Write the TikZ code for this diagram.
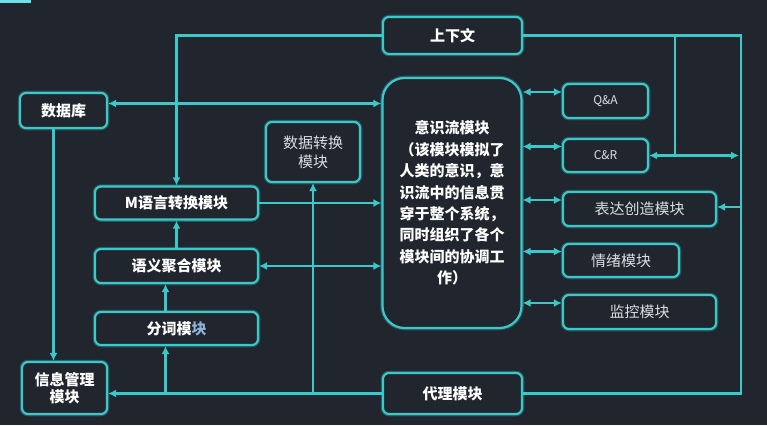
\documentclass[tikz,border=0pt]{standalone}
\usepackage{fontspec}
\newfontfamily\cjk{Noto Sans CJK SC}
\usetikzlibrary{arrows.meta,calc}

\definecolor{bgdark}{RGB}{33,37,46}
\definecolor{glow}{RGB}{58,200,200}
\definecolor{barcyan}{RGB}{110,225,235}
\definecolor{softtext}{RGB}{218,222,226}
\definecolor{bluetext}{RGB}{140,180,215}

\begin{document}
\begin{tikzpicture}[x=1pt, y=-1pt,
  >={Latex[length=8pt,width=8pt]},
  box/.style={draw=glow, line width=2.2pt, rounded corners=6pt, fill=bgdark,
    preaction={draw=glow, line width=4.5pt, opacity=0.3},
    align=center, inner sep=0pt, text=white,
    font=\cjk\bfseries\fontsize{15}{18}\selectfont},
  plainbox/.style={box, text=softtext, font=\cjk\fontsize{15}{19}\selectfont},
  link/.style={draw=glow, line width=2.2pt}]
% Canvas
\fill[bgdark] (0,0) rectangle (767,425);
\useasboundingbox (0,0) rectangle (767,425);
\fill[barcyan] (0,0) rectangle (31,3);
% Central column
\node[box, minimum width=139, minimum height=37] (ctx) at (452.5,35.5) {上下文};
\node[box, rounded corners=22pt, minimum width=139, minimum height=250,
  font=\cjk\bfseries\fontsize{15}{21.4}\selectfont] (stream) at (452,203)
  {意识流模块\\（该模块模拟了\\人类的意识，意\\识流中的信息贯\\穿于整个系统，\\同时组织了各个\\模块间的协调工\\作）};
\node[box, minimum width=139, minimum height=41] (agent) at (452.5,393.5) {代理模块};
% Right column
\node[plainbox, minimum width=85, minimum height=34,
  font=\cjk\fontsize{12}{14}\selectfont] (qa) at (605.5,101) {Q\&A};
\node[plainbox, minimum width=85, minimum height=33,
  font=\cjk\fontsize{12}{14}\selectfont] (cr) at (605.5,155.5) {C\&R};
\node[plainbox, minimum width=153, minimum height=34] (expr) at (639.5,209) {表达创造模块};
\node[plainbox, minimum width=116, minimum height=33] (emo) at (621,260.5) {情绪模块};
\node[plainbox, minimum width=153, minimum height=34] (mon) at (639.5,312) {监控模块};
% Left column
\node[box, minimum width=87, minimum height=35] (db) at (63.5,110.5) {数据库};
\node[plainbox, minimum width=94, minimum height=60] (conv) at (313,152) {数据转换\\模块};
\node[box, minimum width=163, minimum height=33] (mlang) at (176.5,203) {M语言转换模块};
\node[box, minimum width=163, minimum height=34] (sem) at (176.5,266) {语义聚合模块};
\node[box, minimum width=163, minimum height=33] (seg) at (176.5,328.5) {分词模{\color{bluetext}块}};
\node[box, minimum width=85, minimum height=52,
  font=\cjk\bfseries\fontsize{15}{17}\selectfont] (info) at (64.5,388) {信息管理\\模块};
% Bus lines
\coordinate (bus) at (741,0);
\coordinate (cut) at (675,0);
\draw[link] (ctx.east) -- (ctx.east -| bus) -- (agent.east -| bus) -- (agent.east);
\draw[link] (ctx.east -| cut) -- (cr.east -| cut);
\draw[link,<->] (cr.east) -- ([xshift=-2pt]cr.east -| bus);
\draw[link,->] ([yshift=2pt]expr.east -| bus) -- ([yshift=2pt]expr.east);
\draw[link,->] (ctx.west) -| (mlang.north);
% Stream links
\foreach \m in {qa,cr,expr,emo,mon}
  \draw[link,<->] ([yshift=9pt]\m.west -| stream.east) -- ([yshift=9pt]\m.west);
\draw[link,<->] ([yshift=7pt]db.east) -- ([yshift=7pt]db.east -| stream.west);
\draw[link,->] (mlang.east) -- (mlang.east -| stream.west);
\draw[link,<->] (sem.east) -- (sem.east -| stream.west);
% Left stack
\draw[link,->] (sem.north) -- (mlang.south);
\draw[link,->] ([xshift=-11pt]seg.north) -- ([xshift=-11pt]sem.south);
\draw[link,->] (agent.west) -- (agent.west -| info.east);
\draw[link,->] ([xshift=-11pt]seg.south |- agent.west) -- ([xshift=-11pt]seg.south);
\draw[link,->] (conv.south |- agent.west) -- (conv.south);
\draw[link,->] ([xshift=-10pt]db.south) -- ([xshift=-10pt]db.south |- info.north);
\end{tikzpicture}
\end{document}
